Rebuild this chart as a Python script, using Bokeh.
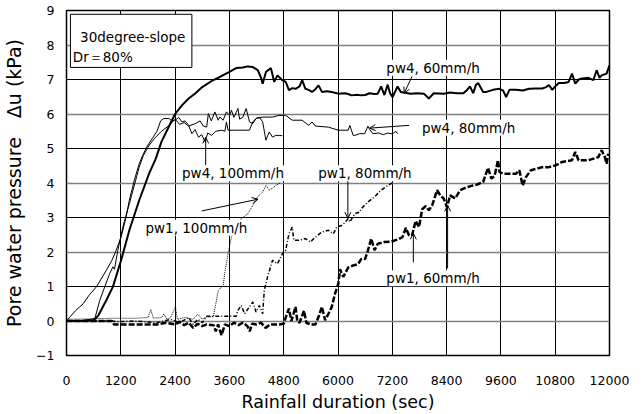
from bokeh.plotting import figure
from bokeh.models import Range1d, FixedTicker, Grid, Label, Arrow, OpenHead, BoxAnnotation
from bokeh.embed import file_html
from bokeh.resources import INLINE

# ---------------- data ----------------
x_ticks = [0, 1200, 2400, 3600, 4800, 6000, 7200, 8400, 9600, 10800, 12000]
y_ticks = [-1, 0, 1, 2, 3, 4, 5, 6, 7, 8, 9]

pw4_60_t = [0, 300, 600, 700, 880, 1025, 1207, 1389, 1607, 1825, 1971, 2100, 2250, 2400, 2550, 2700, 2850,
            3000, 3200, 3400, 3600, 3750, 3900, 4000, 4120, 4226, 4300, 4335, 4408, 4517, 4560, 4590, 4662,
            4771, 4844, 4916, 4990, 5062, 5150, 5208, 5280, 5350, 5426, 5500, 5571, 5644, 5750, 5862, 6007,
            6153, 6225, 6298, 6420, 6516, 6600, 6700, 6800, 6880, 6953, 7025, 7098, 7150, 7207, 7316, 7389,
            7450, 7607, 7750, 7898, 8007, 8116, 8335, 8480, 8625, 8771, 8840, 8916, 8989, 9050, 9098, 9207,
            9280, 9425, 9571, 9650, 9716, 9789, 9934, 10080, 10225, 10370, 10516, 10600, 10662, 10735, 10800,
            10880, 11000, 11098, 11171, 11244, 11320, 11389, 11535, 11644, 11716, 11780, 11825, 11935, 12000]
pw4_60_v = [0.0, 0.0, 0.02, 0.15, 0.6, 0.99, 1.76, 2.63, 3.5, 4.27, 4.7, 5.2, 5.6, 6.0, 6.25, 6.45, 6.6,
            6.78, 6.95, 7.08, 7.22, 7.33, 7.35, 7.38, 7.36, 7.27, 7.05, 6.88, 7.22, 7.33, 7.1, 6.93, 7.12,
            6.98, 6.93, 6.69, 6.75, 6.73, 6.8, 6.98, 6.73, 6.7, 6.64, 6.72, 6.83, 6.64, 6.66, 6.64, 6.59,
            6.6, 6.58, 6.54, 6.56, 6.54, 6.55, 6.6, 6.58, 6.59, 6.8, 6.55, 6.85, 6.6, 6.49, 6.8, 6.64,
            6.62, 6.59, 6.6, 6.59, 6.45, 6.6, 6.59, 6.62, 6.6, 6.6, 6.68, 6.8, 6.6, 6.85, 6.9, 6.64,
            6.64, 6.7, 6.73, 6.68, 6.49, 6.7, 6.7, 6.68, 6.73, 6.74, 6.74, 6.78, 6.84, 6.7, 6.8,
            6.9, 6.9, 6.93, 7.17, 6.88, 7.0, 7.03, 7.05, 6.98, 7.27, 7.05, 7.12, 7.17, 7.41]

pw4_80_t = [0, 300, 626, 735, 953, 1025, 1060, 1135, 1244, 1389, 1607, 1700, 1830, 1950, 2100, 2250, 2400,
            2500, 2600, 2700, 2844, 2953, 3025, 3098, 3135, 3200, 3280, 3353, 3389, 3462, 3535, 3607, 3644,
            3700, 3789, 3825, 3898, 3971, 4044, 4116, 4189, 4335, 4553, 4698, 4844, 4989, 5208, 5353, 5426,
            5500, 5789, 6007, 6225, 6262, 6335, 6371, 6480, 6589, 6662, 6700, 6771, 6900, 7000, 7100, 7200,
            7280, 7316]
pw4_80_v = [0.0, 0.0, 0.07, 0.6, 1.37, 1.57, 1.5, 2.05, 2.72, 3.4, 4.46, 4.8, 5.1, 5.3, 5.5, 5.65, 5.85,
            5.7, 5.75, 5.65, 5.72, 5.8, 5.65, 5.62, 6.01, 5.8, 6.06, 5.82, 5.91, 5.82, 6.06, 5.96, 6.11,
            5.9, 6.16, 5.85, 5.91, 6.16, 5.77, 5.72, 5.87, 5.91, 5.91, 5.96, 5.96, 5.82, 5.82, 5.67, 5.77,
            5.65, 5.62, 5.53, 5.53, 5.67, 5.38, 5.38, 5.43, 5.43, 5.65, 5.55, 5.43, 5.45, 5.4, 5.45, 5.42,
            5.5, 5.43]

pw4_100_t = [0, 80, 200, 370, 500, 661, 880, 1000, 1098, 1207, 1316, 1389, 1498, 1607, 1700, 1800, 1900,
             2000, 2080, 2150, 2262, 2330, 2400, 2480, 2553, 2620, 2698, 2771, 2840, 2917, 2990, 3062, 3120,
             3207, 3300, 3425, 3500, 3535, 3570, 3716, 3900, 4044, 4116, 4189, 4262, 4335, 4407, 4480, 4553,
             4625, 4698, 4771]
pw4_100_v = [0.0, 0.12, 0.3, 0.5, 0.75, 0.99, 1.47, 1.75, 2.05, 2.43, 3.01, 3.5, 4.08, 4.56, 4.85, 5.1, 5.3,
             5.5, 5.8, 5.87, 5.87, 5.8, 5.82, 5.9, 5.77, 5.8, 5.67, 5.43, 5.55, 5.33, 5.4, 5.19, 5.45,
             5.38, 5.5, 5.53, 5.5, 5.77, 5.53, 5.53, 5.53, 5.53, 5.77, 5.87, 5.91, 5.77, 5.24, 5.48, 5.33,
             5.38, 5.38, 5.37]

pw1_100_t = [0, 500, 1000, 1500, 1800, 1862, 1920, 2100, 2150, 2225, 2300, 2407, 2450, 2600, 2800, 2900,
             3000, 3100, 3244, 3300, 3353, 3425, 3460, 3498, 3571, 3644, 3700, 3800, 3900, 4007, 4116, 4225,
             4335, 4407, 4480, 4550, 4625, 4735]
pw1_100_v = [0.05, 0.06, 0.08, 0.08, 0.1, 0.33, 0.08, 0.1, 0.2, 0.05, 0.1, 0.41, 0.05, 0.1, 0.05, 0.2,
             0.05, 0.12, 0.12, 0.5, 0.88, 0.99, 1.0, 1.4, 1.95, 2.43, 2.7, 2.9, 3.0, 3.11, 3.35, 3.6,
             3.74, 3.93, 3.79, 3.85, 3.93, 4.01]

pw1_80_t = [0, 1000, 1100, 1500, 2000, 2300, 2500, 2700, 2800, 2900, 3000, 3100, 3244, 3500, 3750, 3789,
            3862, 3935, 4044, 4116, 4189, 4262, 4335, 4371, 4444, 4553, 4662, 4771, 4844, 4916, 4989, 5025,
            5135, 5280, 5389, 5498, 5644, 5789, 5898, 5971, 6080, 6153, 6225, 6262, 6371, 6480, 6516, 6662,
            6807, 6953, 7098, 7244]
pw1_80_v = [0.0, 0.0, -0.02, 0.0, -0.05, 0.05, -0.05, 0.1, -0.1, 0.05, -0.05, 0.14, 0.14, 0.14, 0.14, 0.31,
            0.45, 0.21, 0.41, 0.55, 0.26, 0.45, 0.21, 0.89, 1.28, 1.76, 1.66, 1.95, 2.05, 2.53, 2.72, 2.34,
            2.34, 2.39, 2.29, 2.43, 2.58, 2.63, 2.53, 2.72, 2.77, 2.85, 2.97, 2.87, 3.11, 3.16, 3.26, 3.45,
            3.6, 3.79, 3.93, 4.03]

pw1_60_t = [0, 500, 1000, 1050, 1500, 2000, 2200, 2400, 2500, 2600, 2700, 2800, 2900, 3000, 3100, 3250,
            3300, 3350, 3425, 3500, 3600, 3700, 3800, 3900, 4000, 4050, 4100, 4200, 4300, 4400, 4500, 4600,
            4700, 4800, 4870, 4916, 4970, 5062, 5100, 5150, 5250, 5300, 5400, 5500, 5571, 5644, 5716, 5789,
            5862, 5934, 6007, 6044, 6116, 6225, 6335, 6444, 6516, 6600, 6662, 6735, 6807, 6880, 7025, 7171,
            7316, 7425, 7498, 7571, 7640, 7716, 7789, 7862, 7935, 8007, 8080, 8189, 8262, 8335, 8407, 8480,
            8589, 8698, 8844, 8989, 9062, 9207, 9316, 9389, 9460, 9535, 9571, 9644, 9935, 10007, 10080,
            10153, 10262, 10516, 10662, 10807, 10953, 11171, 11244, 11316, 11535, 11753, 11825, 11898,
            11935, 11971]
pw1_60_v = [0.0, 0.0, 0.0, -0.1, -0.1, -0.1, -0.05, -0.1, -0.02, -0.12, -0.05, -0.2, -0.08, -0.15, -0.1, -0.12,
            -0.3, -0.1, -0.41, -0.1, -0.15, -0.05, -0.12, -0.05, -0.15, -0.3, -0.08, -0.1, -0.05, -0.2, -0.1, -0.1,
            -0.1, -0.08, 0.2, 0.36, 0.0, 0.41, 0.0, -0.05, 0.3, -0.05, -0.1, -0.1, 0.12, 0.41, 0.02, 0.21,
            0.41, 0.79, 1.08, 1.5, 1.28, 1.55, 1.61, 1.65, 1.8, 1.8, 2.05, 2.39, 2.05, 2.24, 2.29, 2.3,
            2.36, 2.43, 2.7, 2.48, 2.5, 2.9, 2.72, 3.24, 3.33, 3.21, 3.35, 3.79, 3.64, 3.55, 3.3, 3.64,
            3.55, 3.79, 3.88, 3.93, 3.95, 4.03, 4.44, 4.13, 4.2, 4.66, 4.32, 4.27, 4.27, 4.37, 3.93,
            4.17, 4.37, 4.46, 4.46, 4.51, 4.61, 4.66, 4.9, 4.66, 4.66, 4.75, 4.95, 4.75,
            4.56, 4.85]

FONT = "DejaVu Sans"

p = figure(width=642, height=414, output_backend="svg", toolbar_location=None,
           x_range=Range1d(0, 12000), y_range=Range1d(-1, 9),
           min_border_left=58, min_border_right=33, min_border_top=10, min_border_bottom=59)
p.background_fill_color = "white"
p.border_fill_color = "white"
p.outline_line_color = "black"
p.outline_line_width = 1.5
p.outline_line_alpha = 1

# grids
p.xgrid.ticker = FixedTicker(ticks=x_ticks)
p.xgrid.grid_line_color = "black"
p.xgrid.grid_line_width = 1
p.ygrid.ticker = FixedTicker(ticks=[t for t in y_ticks if t % 2 != 0])
p.ygrid.grid_line_color = "black"
p.ygrid.grid_line_width = 1
p.add_layout(Grid(dimension=1, ticker=FixedTicker(ticks=[t for t in y_ticks if t % 2 == 0]),
                  grid_line_color="#808080", grid_line_width=1.5))

# axes
for ax in (p.xaxis, p.yaxis):
    ax.axis_line_color = None
    ax.major_tick_line_color = None
    ax.minor_tick_line_color = None
    ax.major_label_text_font = FONT
    ax.major_label_text_font_size = "12.5px"
    ax.major_label_text_color = "black"
    ax.axis_label_text_font = FONT
    ax.axis_label_text_font_style = "normal"
    ax.axis_label_text_color = "black"
p.xaxis.ticker = FixedTicker(ticks=x_ticks)
p.yaxis.ticker = FixedTicker(ticks=y_ticks)
p.yaxis.major_label_overrides = {-1: "\u22121"}
p.xaxis.major_label_text_align = "left"
p.xaxis.major_label_standoff = 14
p.yaxis.major_label_standoff = 6
p.xaxis.axis_label = "Rainfall duration (sec)"
p.xaxis.axis_label_text_font_size = "17.5px"
p.xaxis.axis_label_standoff = 4
p.yaxis.axis_label = "Pore water pressure\u2003\u0394u (kPa)"
p.yaxis.axis_label_text_font_size = "19px"
p.yaxis.axis_label_standoff = 8

# series
p.line(pw1_100_t, pw1_100_v, line_color="black", line_width=1, line_dash="1 1")
p.line(pw1_80_t, pw1_80_v, line_color="black", line_width=1.5, line_dash="4 2 1 2")
p.line(pw1_60_t, pw1_60_v, line_color="black", line_width=2.5, line_dash="6 2")
p.line(pw4_100_t, pw4_100_v, line_color="black", line_width=1)
p.line(pw4_80_t, pw4_80_v, line_color="black", line_width=1)
p.line(pw4_60_t, pw4_60_v, line_color="black", line_width=2)

# legend box
p.add_layout(BoxAnnotation(left=87, right=2771, top=8.89, bottom=7.35, fill_color="white", fill_alpha=1,
                           line_color="black", line_alpha=1, line_width=1))
p.add_layout(Label(x=300, y=8.22, text="30degree-slope", text_font=FONT, text_font_size="13.5px",
                   text_color="black", text_baseline="middle"))
p.add_layout(Label(x=140, y=7.64, text="Dr\uff1d80%", text_font=FONT, text_font_size="13.5px",
                   text_color="black", text_baseline="middle"))

# annotations
def note(x, y, txt):
    p.add_layout(Label(x=x, y=y, text=txt, text_font=FONT, text_font_size="13.5px", text_color="black",
                       text_baseline="middle", background_fill_color="white", background_fill_alpha=1))

def arrow(x0, y0, x1, y1):
    p.add_layout(Arrow(end=OpenHead(size=6, line_width=1, line_color="black"), x_start=x0, y_start=y0,
                       x_end=x1, y_end=y1, line_width=1, line_color="black"))

arrow(7636, 7.09, 7462, 6.6)
arrow(7571, 5.67, 6698, 5.59)
arrow(3076, 4.51, 3076, 5.32)
arrow(2989, 3.19, 4233, 3.53)
arrow(6218, 4.14, 6218, 2.98)
arrow(7665, 1.70, 7665, 2.54)
arrow(8422, 1.53, 8422, 3.35)

note(7069, 7.34, "pw4, 60mm/h")
note(7855, 5.60, "pw4, 80mm/h")
note(2553, 4.28, "pw4, 100mm/h")
note(1745, 2.70, "pw1, 100mm/h")
note(5564, 4.28, "pw1, 80mm/h")
note(7069, 1.24, "pw1, 60mm/h")

open("out.html", "w").write(file_html(p, INLINE))
